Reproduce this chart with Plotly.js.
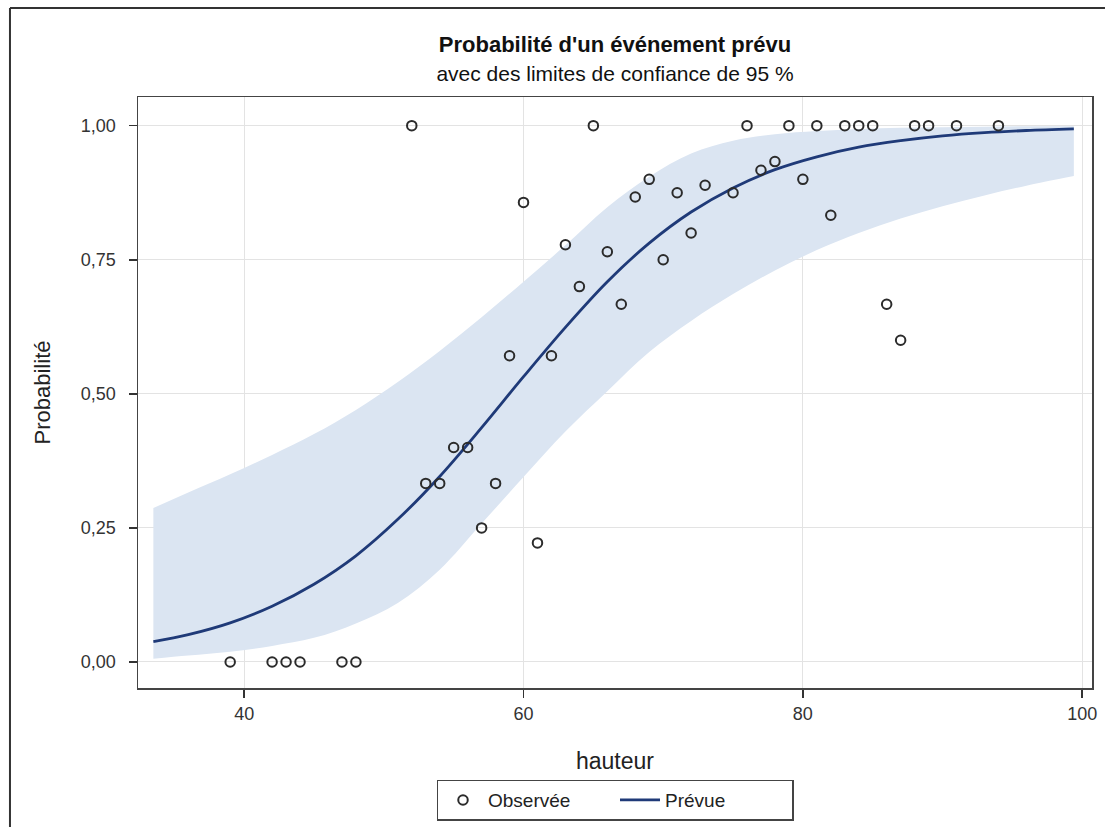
<!DOCTYPE html>
<html>
<head>
<meta charset="utf-8">
<script src="https://cdn.plot.ly/plotly-3.0.1.min.js"></script>
<style>html,body{margin:0;padding:0;background:#fff;}#chart{width:1105px;height:827px;}</style>
</head>
<body>
<div id="chart"></div>
<script>
// Observed proportions
const obsX = [39, 42, 43, 44, 47, 48, 52, 53, 54, 55, 56, 57, 58, 59, 60, 61, 62, 63, 64, 65, 66, 67, 68, 69, 70, 71, 72, 73, 75, 76, 77, 78, 79, 80, 81, 82, 83, 84, 85, 86, 87, 88, 89, 91, 94];
const obsY = [0, 0, 0, 0, 0, 0, 1, 0.333, 0.333, 0.4, 0.4, 0.25, 0.333, 0.571, 0.857, 0.222, 0.571, 0.778, 0.7, 1, 0.765, 0.667, 0.867, 0.9, 0.75, 0.875, 0.8, 0.889, 0.875, 1, 0.917, 0.933, 1, 0.9, 1, 0.833, 1, 1, 1, 0.667, 0.6, 1, 1, 1, 1];

// Predicted curve with 95% confidence limits
const fitX  = [33.5, 36, 39, 42, 45, 48, 51, 54, 57, 60, 63, 66, 69, 72, 75, 78, 81, 84, 87, 90, 93, 96, 99.4];
const fitP  = [0.038, 0.051, 0.073, 0.104, 0.145, 0.198, 0.266, 0.346, 0.437, 0.532, 0.624, 0.709, 0.781, 0.839, 0.884, 0.918, 0.942, 0.960, 0.972, 0.981, 0.987, 0.991, 0.994];
const fitLo = [0.006, 0.012, 0.019, 0.030, 0.045, 0.072, 0.110, 0.172, 0.258, 0.345, 0.430, 0.505, 0.578, 0.636, 0.686, 0.730, 0.768, 0.800, 0.827, 0.850, 0.870, 0.888, 0.906];
const fitHi = [0.287, 0.316, 0.350, 0.386, 0.425, 0.470, 0.522, 0.580, 0.643, 0.709, 0.777, 0.848, 0.905, 0.948, 0.972, 0.984, 0.990, 0.994, 0.996, 0.997, 0.998, 0.999, 0.999];

const xTicks = [40, 60, 80, 100];
const yTicks = [0, 0.25, 0.5, 0.75, 1];

const FONT = '"Liberation Sans", Arial, sans-serif';
const BAND = 'rgb(219,229,242)';

const bandLo = {
  x: fitX, y: fitLo, type: 'scatter', mode: 'lines',
  line: {width: 0, color: 'rgba(0,0,0,0)', shape: 'spline'},
  showlegend: false, hoverinfo: 'skip', name: 'LCL'
};
const bandHi = {
  x: fitX, y: fitHi, type: 'scatter', mode: 'lines', fill: 'tonexty',
  fillcolor: BAND, line: {width: 0, color: 'rgba(0,0,0,0)', shape: 'spline'},
  showlegend: false, hoverinfo: 'skip', name: 'UCL'
};
const curve = {
  x: fitX, y: fitP, type: 'scatter', mode: 'lines', name: 'Prévue',
  line: {color: '#1f3a78', width: 2.8, shape: 'spline'}, legendrank: 2
};
const obs = {
  x: obsX, y: obsY, type: 'scatter', mode: 'markers', name: 'Observée',
  marker: {symbol: 'circle-open', size: 9.5, color: '#2b2b2b', line: {width: 2, color: '#2b2b2b'}},
  legendrank: 1
};

const layout = {
  width: 1105, height: 827,
  paper_bgcolor: '#ffffff', plot_bgcolor: '#ffffff',
  separators: ', ',
  margin: {l: 138, r: 13, t: 97, b: 139, autoexpand: false},
  font: {family: FONT, color: '#222'},
  title: {
    text: "<b>Probabilité d'un événement prévu</b><br><span style=\"font-size:21px\">avec des limites de confiance de 95 %</span>",
    font: {family: FONT, size: 22, color: '#111'},
    x: 0.5, xref: 'paper', xanchor: 'center',
    y: 0.937, yref: 'container', yanchor: 'top'
  },
  xaxis: {
    range: [32.4, 100.7], tickvals: xTicks, ticktext: xTicks.map(String),
    showgrid: true, gridcolor: '#e3e3e3', gridwidth: 1, zeroline: false,
    showline: true, linecolor: '#444', linewidth: 1.5, mirror: true,
    ticks: 'outside', ticklen: 8, tickcolor: '#333', tickwidth: 1.5,
    tickfont: {family: FONT, size: 18, color: '#333'}, ticklabelstandoff: 1,
    title: {text: 'hauteur', font: {family: FONT, size: 23, color: '#222'}, standoff: 30},
    automargin: false
  },
  yaxis: {
    range: [-0.0485, 1.0535], tickvals: yTicks, tickformat: '.2f',
    showgrid: true, gridcolor: '#e3e3e3', gridwidth: 1, zeroline: false,
    showline: true, linecolor: '#444', linewidth: 1.5, mirror: true,
    ticks: 'outside', ticklen: 8, tickcolor: '#333', tickwidth: 1.5,
    tickfont: {family: FONT, size: 18, color: '#333'}, ticklabelstandoff: 9,
    title: {text: 'Probabilité', font: {family: FONT, size: 22, color: '#222'}, standoff: 24},
    automargin: false
  },
  legend: {
    orientation: 'h', x: 0.5, xanchor: 'center', xref: 'paper',
    y: -0.155, yanchor: 'top', yref: 'paper',
    bordercolor: '#444', borderwidth: 1.5, bgcolor: '#fff',
    font: {family: FONT, size: 19, color: '#222'},
    itemwidth: 40, entrywidth: 122, traceorder: 'normal'
  },
  shapes: [
    {type: 'line', xref: 'paper', yref: 'paper', x0: -0.1342, x1: 1.0136, y0: 1.1506, y1: 1.1506, line: {color: '#333', width: 2}},
    {type: 'line', xref: 'paper', yref: 'paper', x0: -0.1342, x1: -0.1342, y0: -0.2352, y1: 1.1506, line: {color: '#333', width: 2}}
  ],
  showlegend: true
};

Plotly.newPlot('chart', [bandLo, bandHi, curve, obs], layout, {displayModeBar: false, staticPlot: true});
</script>
</body>
</html>
